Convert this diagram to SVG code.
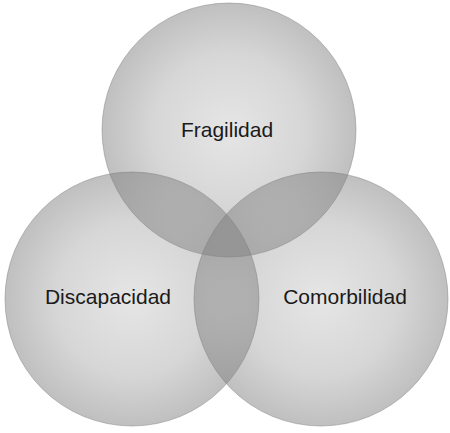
<svg xmlns="http://www.w3.org/2000/svg" width="450" height="433" viewBox="0 0 450 433">
  <defs>
    <radialGradient id="disc" cx="0.5" cy="0.5" r="0.5">
      <stop offset="0" stop-color="#808080" stop-opacity="0.2"/>
      <stop offset="0.6" stop-color="#808080" stop-opacity="0.32"/>
      <stop offset="1" stop-color="#808080" stop-opacity="0.5"/>
    </radialGradient>
    <filter id="soft" x="-10%" y="-10%" width="120%" height="125%">
      <feGaussianBlur in="SourceAlpha" stdDeviation="1.5"/>
      <feOffset dy="1.5" result="b"/>
      <feComponentTransfer in="b" result="s"><feFuncA type="linear" slope="0.35"/></feComponentTransfer>
      <feMerge><feMergeNode in="s"/><feMergeNode in="SourceGraphic"/></feMerge>
    </filter>
  </defs>
  <style>
    .set { fill: url(#disc); stroke: #7a7a7a; stroke-opacity: 0.45; stroke-width: 1; }
    .lbl { font-family: "Liberation Sans", Arial, sans-serif; font-size: 21px; fill: #1a1a1a; text-anchor: middle; }
  </style>
  <rect width="450" height="433" fill="#ffffff"/>
  <g id="fragilidad">
    <circle class="set" cx="229" cy="130" r="127"/>
    <text class="lbl" x="227" y="137">Fragilidad</text>
  </g>
  <g id="discapacidad">
    <circle class="set" cx="132" cy="299" r="127"/>
    <text class="lbl" x="108" y="304">Discapacidad</text>
  </g>
  <g id="comorbilidad">
    <circle class="set" cx="321" cy="299" r="127"/>
    <text class="lbl" x="345" y="304">Comorbilidad</text>
  </g>
</svg>
